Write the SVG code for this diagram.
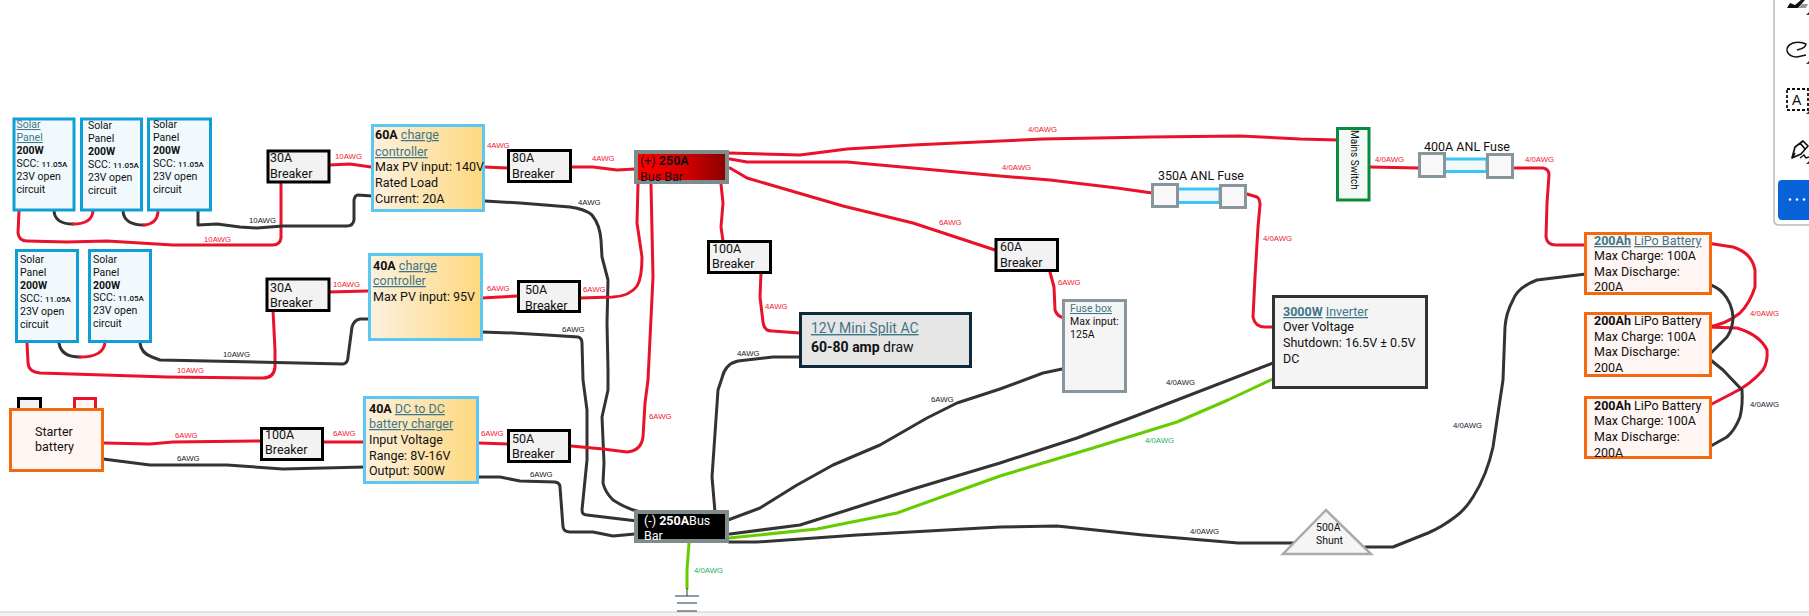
<svg xmlns="http://www.w3.org/2000/svg" width="1809" height="616" viewBox="0 0 1809 616">
<style>
text{font-family:Roboto,"Liberation Sans",sans-serif;fill:#111;font-size:12.5px}
.sm{font-size:10.5px}.xs{font-size:8px;font-weight:500}
.lnk{fill:#3f7688;text-decoration:underline}
.b{font-weight:700}
.l{font-family:"Liberation Sans",sans-serif;font-size:7.8px}
.lr{fill:#f0182e}.lk{fill:#15202b}.lg{fill:#1fb060}
.r,.k,.g{fill:none;stroke-width:3;stroke-linejoin:round;stroke-linecap:round}
.r{stroke:#e8132b}.k{stroke:#333}.g{stroke:#66cc00}
.panel{fill:#f2f9fd;stroke:#0f9ed5;stroke-width:3}
.brk{fill:#f2f2f2;stroke:#000;stroke-width:3}
.ctl{stroke:#5bc8f2;stroke-width:3}
.bat{fill:#fff5f2;stroke:#f2690f;stroke-width:3}
.fb{fill:#f8f8f8;stroke:#87969c;stroke-width:3}
.tube{fill:#f2f9fd;stroke:#3cc4f5;stroke-width:3}
</style>
<defs>
<linearGradient id="gc" x1="0" x2="1" y1="0" y2="0"><stop offset="0" stop-color="#fdf1df"/><stop offset="1" stop-color="#fdd87e"/></linearGradient>
<linearGradient id="gr" x1="0" x2="1" y1="0" y2="0"><stop offset="0" stop-color="#ff0000"/><stop offset="0.5" stop-color="#d80000"/><stop offset="1" stop-color="#8a0000"/></linearGradient>
<clipPath id="cp"><rect x="636" y="152" width="91" height="30"/></clipPath>
<clipPath id="cm"><rect x="636" y="512" width="91" height="29"/></clipPath>
</defs>
<rect width="1809" height="616" fill="#fff"/>
<rect x="0" y="612" width="1809" height="4" fill="#f4f4f4"/>
<path d="M0,612H1809" stroke="#ccc" stroke-width="1"/>

<g id="connectors">
<path class="r" d="M19,211L18,233Q19,241 27,241L67,242L107,241L173,245L273,245Q280,245 281,238L281,182"/>
<path class="k" d="M54,211Q55,224 73,224"/><path class="r" d="M73,224Q92,224 93,211"/>
<path class="k" d="M123,211Q124,225 144,225"/><path class="r" d="M144,225Q157,224 158,212"/>
<path class="k" d="M198,211L198,225L217,224L240,227L257,228L283,226L347,226Q353,226 354,220L354,200Q355,195 358,195L372,196"/>
<path class="r" d="M329,165L350,164L371,167"/>
<path class="r" d="M484,167L508,168"/>
<path class="k" d="M485,201L520,203L570,207Q585,209 592,215Q600,225 601,240L602,257L608,280L607,323L608,370L608,390L602,417L604,463L603,483Q605,492 613,500Q625,508 637,511"/>
<path class="r" d="M570,167L593,167L617,170L635,169"/>
<path class="r" d="M482,298L500,297L517,296"/>
<path class="r" d="M580,298L613,297Q630,296 637,286Q642,278 642,257L637,223L638,184"/>
<path class="k" d="M482,332L513,333L547,335L578,337Q582,338 582,343L583,380L587,410L587,460L582,510Q582,515 587,515L637,521"/>
<path class="r" d="M571,446L603,449L627,452Q641,451 643,437L645,403L648,380L653,277L651,184"/>
<path class="r" d="M479,443L508,444"/>
<path class="k" d="M478,477L500,477L520,481L555,482Q560,483 560,487L563,527Q564,532 570,532L593,532L613,536L635,534"/>
<path class="r" d="M721,184L723,203L721,227L723,241"/>
<path class="r" d="M761,272L760,297L763,322Q764,331 772,331L800,333"/>
<path class="k" d="M800,357L773,357L738,361Q725,364 722,378L718,390L712,477L715,512"/>
<path class="r" d="M729,153L800,155L847,149L913,145L1000,141L1043,139L1150,137L1240,136L1300,139L1338,140"/>
<path class="r" d="M730,159L747,162L847,162L913,168L1000,176L1050,180L1117,188L1152,193"/>
<path class="r" d="M730,168L747,178L843,206L913,223L995,250"/>
<path class="r" d="M1050,272L1054,287L1055,310Q1057,317 1065,318"/>
<path class="r" d="M1247,194L1257,197Q1260,199 1260,205L1258,227L1255,277L1253,317Q1255,327 1265,327L1275,327"/>
<path class="r" d="M1370,167L1418,168"/>
<path class="r" d="M1512,168L1543,168Q1549,169 1549,175L1547,203L1546,237Q1547,245 1556,245L1585,245"/>
<path class="r" d="M1707,243L1733,247Q1752,253 1755,270L1755,287Q1750,303 1740,313Q1725,325 1707,327"/>
<path class="r" d="M1707,327L1737,328Q1760,335 1767,350Q1768,362 1763,370Q1750,385 1733,393L1708,406"/>
<path class="k" d="M1705,283Q1718,287 1723,293Q1732,303 1733,317Q1733,328 1727,337L1707,357"/>
<path class="k" d="M1707,357L1723,370L1742,390Q1743,405 1740,417Q1735,430 1727,437L1709,447"/>
<path class="k" d="M1586,274L1537,280Q1518,287 1513,300Q1506,313 1505,327L1503,380L1500,400L1493,447Q1487,475 1473,497Q1465,510 1455,517Q1442,527 1428,533L1393,547L1365,547"/>
<path class="k" d="M1295,543L1238,543L1143,535L1057,526L1000,527L857,535L757,542L729,542"/>
<path class="k" d="M728,520L760,508L797,485L833,465L880,445L927,418L957,403L1000,389L1043,373L1067,368"/>
<path class="k" d="M730,534L800,525L857,507L913,489L1000,463L1077,438L1133,417L1177,400L1273,363"/>
<path class="g" d="M729,538L817,529L897,513L947,495L1000,476L1093,448L1177,422L1228,400L1275,378"/>
<path class="g" d="M689,543L687,570L687,588"/>
<path class="r" d="M104,443L150,444L173,442L261,441"/>
<path class="r" d="M324,442L365,442"/>
<path class="k" d="M103,459L150,465L227,465L283,469L365,467"/>
<path class="r" d="M273,310L275,350L275,367Q274,378 263,378L167,377L40,373Q28,372 28,362L27,343"/>
<path class="k" d="M59,343Q61,357 80,357"/><path class="r" d="M80,357Q104,357 105,342"/>
<path class="k" d="M140,343Q141,353 152,357L160,360L343,364Q348,363 348,357L352,327Q354,320 360,319L368,319"/>
<path class="r" d="M328,292L368,291"/>
<path d="M687,588V596" stroke="#1f3a4d" stroke-width="1" fill="none"/>
</g>

<g id="wire-labels">
<text class="l lk" x="249" y="223">10AWG</text>
<text class="l lr" x="204" y="242">10AWG</text>
<text class="l lr" x="335" y="159">10AWG</text>
<text class="l lk" x="223" y="357">10AWG</text>
<text class="l lr" x="177" y="373">10AWG</text>
<text class="l lr" x="333" y="287">10AWG</text>
<text class="l lr" x="487" y="148">4AWG</text>
<text class="l lk" x="578" y="205">4AWG</text>
<text class="l lr" x="592" y="161">4AWG</text>
<text class="l lr" x="487" y="291">6AWG</text>
<text class="l lr" x="583" y="292">6AWG</text>
<text class="l lk" x="562" y="332">6AWG</text>
<text class="l lr" x="649" y="419">6AWG</text>
<text class="l lr" x="481" y="436">6AWG</text>
<text class="l lk" x="530" y="477">6AWG</text>
<text class="l lr" x="765" y="309">4AWG</text>
<text class="l lk" x="737" y="356">4AWG</text>
<text class="l lr" x="1028" y="132">4/0AWG</text>
<text class="l lr" x="1002" y="170">4/0AWG</text>
<text class="l lr" x="939" y="225">6AWG</text>
<text class="l lr" x="1058" y="285">6AWG</text>
<text class="l lr" x="1263" y="241">4/0AWG</text>
<text class="l lr" x="1375" y="162">4/0AWG</text>
<text class="l lr" x="1525" y="162">4/0AWG</text>
<text class="l lr" x="1750" y="316">4/0AWG</text>
<text class="l lk" x="1750" y="407">4/0AWG</text>
<text class="l lk" x="1453" y="428">4/0AWG</text>
<text class="l lk" x="1190" y="534">4/0AWG</text>
<text class="l lk" x="931" y="402">6AWG</text>
<text class="l lk" x="1166" y="385">4/0AWG</text>
<text class="l lg" x="1145" y="443">4/0AWG</text>
<text class="l lg" x="694" y="573">4/0AWG</text>
<text class="l lr" x="175" y="438">6AWG</text>
<text class="l lr" x="333" y="436">6AWG</text>
<text class="l lk" x="177" y="461">6AWG</text>
</g>

<g id="panel1"><rect class="panel" x="14" y="119" width="60" height="91"/>
<text class="sm lnk" x="16.5" y="128">Solar</text><text class="sm lnk" x="16.5" y="141">Panel</text><text class="sm b" x="16.5" y="154">200W</text><text class="sm" x="16.5" y="167">SCC: <tspan class="xs">11.05A</tspan></text><text class="sm" x="16.5" y="180">23V open</text><text class="sm" x="16.5" y="193">circuit</text></g>
<g id="panel2"><rect class="panel" x="81.5" y="119" width="60" height="91"/>
<text class="sm" x="88" y="129">Solar</text><text class="sm" x="88" y="142">Panel</text><text class="sm b" x="88" y="155">200W</text><text class="sm" x="88" y="168">SCC: <tspan class="xs">11.05A</tspan></text><text class="sm" x="88" y="181">23V open</text><text class="sm" x="88" y="194">circuit</text></g>
<g id="panel3"><rect class="panel" x="148.500" y="119" width="62" height="91"/>
<text class="sm" x="153" y="128">Solar</text><text class="sm" x="153" y="141">Panel</text><text class="sm b" x="153" y="154">200W</text><text class="sm" x="153" y="167">SCC: <tspan class="xs">11.05A</tspan></text><text class="sm" x="153" y="180">23V open</text><text class="sm" x="153" y="193">circuit</text></g>
<g id="panel4"><rect class="panel" x="16.500" y="250.500" width="61" height="91"/>
<text class="sm" x="20" y="263">Solar</text><text class="sm" x="20" y="276">Panel</text><text class="sm b" x="20" y="289">200W</text><text class="sm" x="20" y="302">SCC: <tspan class="xs">11.05A</tspan></text><text class="sm" x="20" y="315">23V open</text><text class="sm" x="20" y="328">circuit</text></g>
<g id="panel5"><rect class="panel" x="89.500" y="250.500" width="61" height="91"/>
<text class="sm" x="93" y="263">Solar</text><text class="sm" x="93" y="276">Panel</text><text class="sm b" x="93" y="289">200W</text><text class="sm" x="93" y="301">SCC: <tspan class="xs">11.05A</tspan></text><text class="sm" x="93" y="314">23V open</text><text class="sm" x="93" y="327">circuit</text></g>

<g id="breaker-30a-1"><rect class="brk" x="268" y="151" width="61" height="31"/><text x="270" y="162">30A</text><text x="270" y="178">Breaker</text></g>
<g id="breaker-30a-2"><rect class="brk" x="267" y="279" width="62" height="31.500"/><text x="270" y="292">30A</text><text x="270" y="307">Breaker</text></g>
<g id="controller-60a"><rect class="ctl" fill="url(#gc)" x="372.500" y="125.500" width="111" height="85"/>
<text x="375" y="139"><tspan class="b">60A</tspan> <tspan class="lnk">charge</tspan></text><text class="lnk" x="375" y="156">controller</text><text x="375" y="171">Max PV input: 140V</text><text x="375" y="187">Rated Load</text><text x="375" y="203">Current: 20A</text></g>
<g id="controller-40a"><rect class="ctl" fill="url(#gc)" x="369.500" y="254.500" width="112" height="85"/>
<text x="373" y="270"><tspan class="b">40A</tspan> <tspan class="lnk">charge</tspan></text><text class="lnk" x="373" y="285">controller</text><text x="373" y="301">Max PV input: 95V</text></g>
<g id="starter-battery"><rect class="brk" x="18.500" y="398.500" width="22" height="12"/><rect x="74.500" y="398.500" width="21" height="12" fill="#fff5f2" stroke="#e8132b" stroke-width="3"/><rect class="bat" x="10.500" y="409.500" width="92" height="61"/>
<text x="35" y="436">Starter</text><text x="35" y="451">battery</text></g>
<g id="breaker-100a-1"><rect class="brk" x="261.500" y="428.500" width="61" height="31"/><text x="265" y="439">100A</text><text x="265" y="454">Breaker</text></g>
<g id="dc-dc-charger"><rect class="ctl" fill="url(#gc)" x="364.500" y="397.500" width="113" height="85"/>
<text x="369" y="413"><tspan class="b">40A</tspan> <tspan class="lnk">DC to DC</tspan></text><text class="lnk" x="369" y="428">battery charger</text><text x="369" y="444">Input Voltage</text><text x="369" y="460">Range: 8V-16V</text><text x="369" y="475">Output: 500W</text></g>
<g id="breaker-80a"><rect class="brk" x="508.500" y="150.500" width="62" height="31"/><text x="512" y="162">80A</text><text x="512" y="178">Breaker</text></g>
<g id="breaker-50a-1"><rect class="brk" x="518.500" y="281.500" width="61" height="30"/><text x="525" y="294">50A</text><text x="525" y="310">Breaker</text></g>
<g id="breaker-50a-2"><rect class="brk" x="508.500" y="430.500" width="61" height="31"/><text x="512" y="443">50A</text><text x="512" y="458">Breaker</text></g>
<g id="bus-positive"><rect x="636" y="152" width="91" height="30" fill="url(#gr)" stroke="#7f8c8d" stroke-width="4"/>
<g clip-path="url(#cp)"><text x="640" y="165">(+) <tspan class="b">250A</tspan></text><text x="640" y="181">Bus Bar</text></g></g>
<g id="bus-negative"><rect x="636" y="512" width="91" height="29" fill="#000" stroke="#7f8c8d" stroke-width="4"/>
<g clip-path="url(#cm)"><text x="644" y="525" style="fill:#fff">(-) <tspan class="b" style="fill:#fff">250A</tspan>Bus</text><text x="644" y="540" style="fill:#fff">Bar</text></g></g>
<g id="breaker-100a-2"><rect class="brk" x="708.500" y="241.500" width="62" height="31"/><text x="712" y="253">100A</text><text x="712" y="268">Breaker</text></g>
<g id="mini-split"><rect x="800.500" y="313.500" width="170" height="53" fill="#e6e6e6" stroke="#0e2a3a" stroke-width="3"/>
<text class="lnk" style="font-size:14px" x="811" y="333">12V Mini Split AC</text><text style="font-size:14px" x="811" y="352"><tspan class="b">60-80 amp</tspan> draw</text></g>
<g id="breaker-60a"><rect class="brk" x="996" y="239.500" width="61.500" height="31"/><text x="1000" y="251">60A</text><text x="1000" y="267">Breaker</text></g>
<g id="fuse-box"><rect x="1063.500" y="300.500" width="62" height="91" fill="#f5f5f5" stroke="#87969c" stroke-width="3"/>
<text class="sm lnk" x="1070" y="312">Fuse box</text><text class="sm" x="1070" y="325">Max input:</text><text class="sm" x="1070" y="338">125A</text></g>
<g id="inverter"><rect x="1273.500" y="296.500" width="153" height="91" fill="#f4f4f4" stroke="#333" stroke-width="3"/>
<text x="1283" y="316"><tspan class="lnk b">3000W</tspan> <tspan class="lnk">Inverter</tspan></text><text x="1283" y="331">Over Voltage</text><text x="1283" y="347">Shutdown: 16.5V ± 0.5V</text><text x="1283" y="363">DC</text></g>
<g id="fuse-350a"><rect class="tube" x="1177" y="189" width="43" height="13.500"/><rect class="fb" x="1152.500" y="184.500" width="25" height="22"/><rect class="fb" x="1220.500" y="185.500" width="25" height="22"/><text x="1158" y="180">350A ANL Fuse</text></g>
<g id="mains-switch"><rect x="1337.500" y="128.500" width="31.500" height="71.500" fill="#f3f9f5" stroke="#0a8a3c" stroke-width="3"/>
<text style="font-size:10px" transform="translate(1350.500,130) rotate(90)">Mains Switch</text></g>
<g id="fuse-400a"><rect class="tube" x="1444" y="159" width="43" height="12.500"/><rect class="fb" x="1419.500" y="153.500" width="25" height="23"/><rect class="fb" x="1487.500" y="154.500" width="25" height="23"/><text x="1424" y="151">400A ANL Fuse</text></g>
<g id="battery-1"><rect class="bat" x="1585.500" y="233.500" width="125" height="60"/>
<text x="1594" y="245"><tspan class="lnk b">200Ah</tspan> <tspan class="lnk">LiPo Battery</tspan></text><text x="1594" y="260">Max Charge: 100A</text><text x="1594" y="276">Max Discharge:</text><text x="1594" y="291">200A</text></g>
<g id="battery-2"><rect class="bat" x="1585.500" y="313.500" width="125" height="62"/>
<text x="1594" y="325"><tspan class="b">200Ah</tspan> LiPo Battery</text><text x="1594" y="341">Max Charge: 100A</text><text x="1594" y="356">Max Discharge:</text><text x="1594" y="372">200A</text></g>
<g id="battery-3"><rect class="bat" x="1585.500" y="397.500" width="125" height="60"/>
<text x="1594" y="410"><tspan class="b">200Ah</tspan> LiPo Battery</text><text x="1594" y="425">Max Charge: 100A</text><text x="1594" y="441">Max Discharge:</text><text x="1594" y="457">200A</text></g>
<g id="shunt"><path d="M1326,510L1283,554H1371Z" fill="#f5f5f5" stroke="#aaa" stroke-width="2.500" stroke-linejoin="miter"/>
<text class="sm" x="1316" y="531">500A</text><text class="sm" x="1316" y="544">Shunt</text></g>
<g id="ground"><path d="M675,596H699M677,603H697M677,611H697" stroke="#1f3a4d" stroke-width="1.200" fill="none"/></g>

<g id="toolbar">
<path d="M1809,225H1779Q1774,225 1774,220V0" fill="none" stroke="#bbb" stroke-width="1.500"/>
<rect x="1778" y="180" width="40" height="40" rx="4" fill="#0a62d8"/>
<circle cx="1790" cy="199.500" r="1.300" fill="#fff"/><circle cx="1797" cy="199.500" r="1.300" fill="#fff"/><circle cx="1804" cy="199.500" r="1.300" fill="#fff"/>
<path d="M1787,8L1790,3L1795,5L1801,0H1805L1798,8Z" fill="#111"/><path d="M1798,8L1802,4H1808L1806,8Z" fill="#999"/>
<path d="M1797,50Q1806,48 1806,44Q1800,41 1793,43Q1786,46 1787,51Q1789,57 1797,57L1806,55" fill="none" stroke="#111" stroke-width="1.500"/>
<rect x="1787" y="89" width="21" height="21" fill="none" stroke="#111" stroke-width="1.800" stroke-dasharray="3 2"/>
<text x="1792" y="105" style="font-size:14px;font-family:'Liberation Sans',sans-serif">A</text>
<path d="M1792,158L1795,147L1803,141L1808,146L1801,154ZM1800,143L1805,149M1795,153L1792,158" fill="none" stroke="#111" stroke-width="1.700" stroke-linejoin="round"/>
<path d="M1800,158L1804,155L1806,158L1809,157" fill="none" stroke="#111" stroke-width="1.400"/>
<path d="M1809,12V15H1806ZM1809,61V64H1806ZM1809,111V114H1806ZM1809,161V164H1806Z" fill="#333"/>
</g>
</svg>
